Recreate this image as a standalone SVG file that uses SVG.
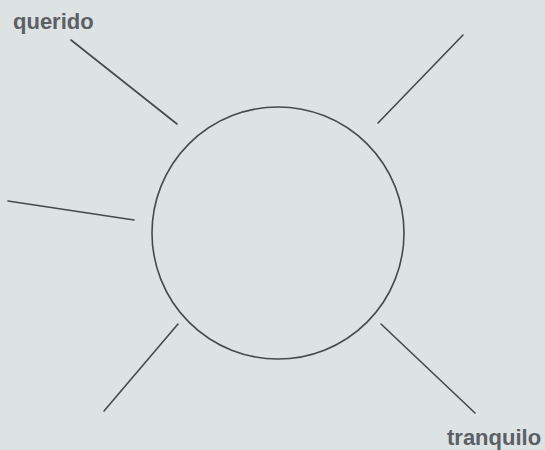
<svg xmlns="http://www.w3.org/2000/svg" width="545" height="450" viewBox="0 0 545 450">
<style>
.ln{stroke:#47494c;stroke-width:1.6;fill:none;stroke-linecap:round}
.lbl{font-family:"Liberation Sans","DejaVu Sans",sans-serif;font-weight:bold;font-size:22px;fill:#5b5f66}
</style>
<rect width="545" height="450" fill="#dde2e3"/>
<g id="center">
<circle class="ln" cx="278" cy="233" r="126"/>
</g>
<g id="connectors">
<line class="ln" x1="71" y1="40" x2="177" y2="124"/>
<line class="ln" x1="463" y1="35" x2="378" y2="123"/>
<line class="ln" x1="8" y1="201" x2="134" y2="220"/>
<line class="ln" x1="178" y1="324" x2="104" y2="411"/>
<line class="ln" x1="381" y1="324" x2="475" y2="413"/>
</g>
<g id="label-querido"><text class="lbl" x="13" y="29">querido</text></g>
<g id="label-tranquilo"><text class="lbl" x="447" y="445">tranquilo</text></g>
</svg>
